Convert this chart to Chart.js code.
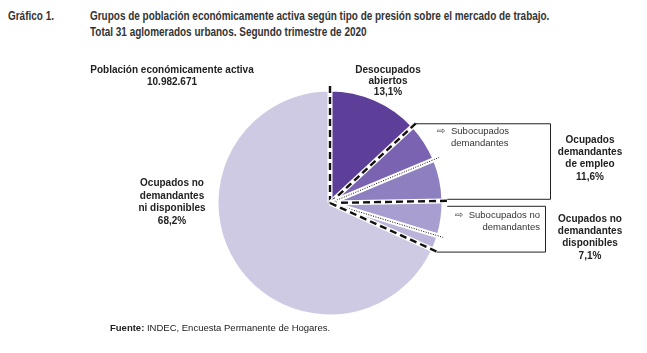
<!DOCTYPE html>
<html>
<head>
<meta charset="utf-8">
<script src="https://cdn.jsdelivr.net/npm/chart.js@4.4.0/dist/chart.umd.min.js"></script>
<style>
  body { margin: 0; background: #fff; width: 647px; height: 353px; overflow: hidden; position: relative; }
  .t { position: absolute; font-family: "Liberation Sans Narrow", "Arial Narrow", "Liberation Sans", sans-serif; font-weight: bold; font-size: 12px; color: #333; white-space: nowrap; transform: scaleX(0.83); transform-origin: 0 0; }
  .src { position: absolute; left: 110px; top: 322px; font-family: "Liberation Sans", Arial, sans-serif; font-size: 9.5px; color: #222; }
  canvas { position: absolute; left: 0; top: 0; }
</style>
</head>
<body>
<div class="t" style="left:8px; top:9px;">Gráfico 1.</div>
<div class="t" style="left:90px; top:9px;">Grupos de población económicamente activa según tipo de presión sobre el mercado de trabajo.</div>
<div class="t" style="left:90px; top:25px;">Total 31 aglomerados urbanos. Segundo trimestre de 2020</div>
<canvas id="pie-chart" width="647" height="353"></canvas>
<div class="src"><b>Fuente:</b> INDEC, Encuesta Permanente de Hogares.</div>
<script>
// Slices, clockwise from the top
const sliceNames = [
  'Desocupados abiertos',
  'Subocupados demandantes',
  'Otros ocupados demandantes de empleo',
  'Subocupados no demandantes',
  'Otros ocupados no demandantes disponibles',
  'Ocupados no demandantes ni disponibles'
];
const sliceValues = [13.1, 5.6, 6.0, 5.0, 2.1, 68.2];
const sliceColors = ['#5d3e99', '#7a63b1', '#8e7fc1', '#a89ecf', '#bbb3da', '#cecae4'];

// Separators: line style at the start of each slice
const separatorStyles = ['dash', 'dash', 'dot', 'dash', 'dot', 'dash'];

// Text around the pie
const labelBlocks = [
  { lines: ['Población económicamente activa', '10.982.671'], x: 172, y: 70, lh: 12 },
  { lines: ['Desocupados', 'abiertos', '13,1%'], x: 388, y: 70, lh: 11 },
  { lines: ['Ocupados', 'demandantes', 'de empleo', '11,6%'], x: 590, y: 140, lh: 12.3 },
  { lines: ['Ocupados no', 'demandantes', 'disponibles', '7,1%'], x: 590, y: 219, lh: 12.3 },
  { lines: ['Ocupados no', 'demandantes', 'ni disponibles', '68,2%'], x: 172, y: 183, lh: 12.8 }
];

const piePlugin = {
  id: 'pieDecor',
  afterDatasetsDraw(chart) {
    const ctx = chart.ctx;
    const arcs = chart.getDatasetMeta(0).data;
    const cx = arcs[0].x, cy = arcs[0].y, r = arcs[0].outerRadius;
    const ends = [];

    // separator lines between groups
    arcs.forEach((arc, i) => {
      const a = arc.startAngle;
      const ext = separatorStyles[i] === 'dash' ? r + 5 : r + 6;
      const ex = cx + Math.cos(a) * ext, ey = cy + Math.sin(a) * ext;
      ends.push({ x: ex, y: ey });
      ctx.save();
      ctx.lineCap = 'butt';
      ctx.strokeStyle = '#fff';
      ctx.lineWidth = 5;
      ctx.beginPath();
      ctx.moveTo(cx, cy);
      ctx.lineTo(cx + Math.cos(a) * r, cy + Math.sin(a) * r);
      ctx.stroke();
      ctx.strokeStyle = '#111';
      if (separatorStyles[i] === 'dash') {
        ctx.lineWidth = 2.4;
        ctx.setLineDash([7, 4]);
      } else {
        ctx.lineWidth = 1;
        ctx.setLineDash([1, 1.5]);
      }
      ctx.beginPath();
      ctx.moveTo(cx, cy);
      ctx.lineTo(ex, ey);
      ctx.stroke();
      ctx.restore();
    });

    // brackets grouping the small slices
    ctx.save();
    ctx.strokeStyle = '#222';
    ctx.lineWidth = 1;
    ctx.beginPath();
    ctx.moveTo(ends[1].x, ends[1].y + 0.5);
    ctx.lineTo(550.5, ends[1].y + 0.5);
    ctx.lineTo(550.5, ends[3].y - 1.5);
    ctx.lineTo(ends[3].x, ends[3].y - 1.5);
    ctx.moveTo(ends[3].x, ends[3].y + 5.5);
    ctx.lineTo(545.5, ends[3].y + 5.5);
    ctx.lineTo(545.5, ends[5].y + 0.5);
    ctx.lineTo(ends[5].x, ends[5].y + 0.5);
    ctx.stroke();
    ctx.restore();

    // labels
    ctx.save();
    ctx.fillStyle = '#222';
    ctx.textAlign = 'center';
    ctx.textBaseline = 'middle';
    ctx.font = 'bold 10px "Liberation Sans", Arial, sans-serif';
    labelBlocks.forEach(b => {
      b.lines.forEach((t, k) => ctx.fillText(t, b.x, b.y + k * b.lh));
    });
    ctx.font = '9.5px "Liberation Sans", Arial, sans-serif';
    ctx.fillStyle = '#333';
    ctx.textAlign = 'left';
    ctx.fillText('⇨', 437, 131);
    ctx.fillText('Subocupados', 451, 131);
    ctx.fillText('demandantes', 451, 143);
    ctx.textAlign = 'right';
    ctx.fillText('Subocupados no', 540, 215);
    ctx.fillText('demandantes', 540, 227);
    const w = ctx.measureText('Subocupados no').width;
    ctx.textAlign = 'left';
    ctx.fillText('⇨', 540 - w - 14, 215);
    ctx.restore();
  }
};

const pieChart = document.getElementById('pie-chart');
new Chart(pieChart, {
  type: 'pie',
  data: {
    labels: sliceNames,
    datasets: [
      {
        data: sliceValues,
        backgroundColor: sliceColors,
        borderColor: '#fff',
        borderWidth: 1.5
      }
    ]
  },
  options: {
    responsive: false,
    animation: false,
    devicePixelRatio: 1,
    layout: { padding: { top: 90, bottom: 37, left: 217, right: 204 } },
    plugins: {
      legend: { display: false },
      tooltip: { enabled: false }
    }
  },
  plugins: [piePlugin]
});
</script>
</body>
</html>
